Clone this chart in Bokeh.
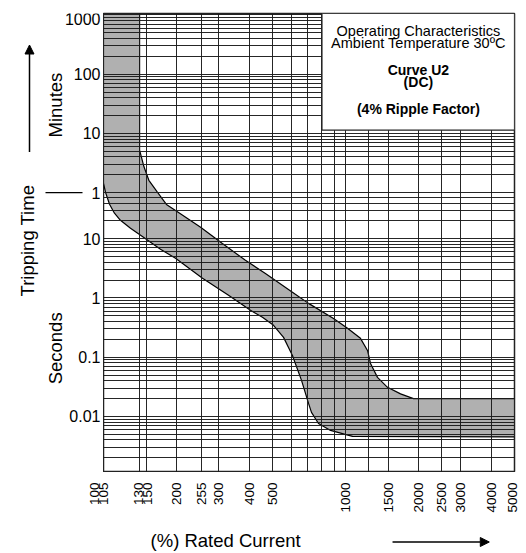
import math
from bokeh.plotting import figure
from bokeh.layouts import column, row
from bokeh.models import Range1d, FixedTicker, Label, Arrow, NormalHead
from bokeh.core.properties import value
from bokeh.embed import file_html
from bokeh.resources import INLINE

FONT = "Liberation Sans"

# ---------------- data ----------------
# x: (%) rated current, printed log scale (the "130" line sits at ~141 on the log grid)
x_tick_vals = [100, 105, 141, 150, 200, 255, 300, 400, 500, 1000, 1500, 2000, 2500, 3000, 4000, 5000]
x_tick_text = ["100", "105", "130", "150", "200", "255", "300", "400", "500",
               "1000", "1500", "2000", "2500", "3000", "4000", "5000"]
x_grid_vals = [100, 141, 150, 200, 255, 300, 400, 500, 600, 700, 800, 900, 1000,
               1250, 1500, 2000, 2500, 3000, 4000, 5000]

# y: tripping time in seconds (upper part labelled in minutes)
y_tick_vals = [60000, 6000, 600, 60, 10, 1, 0.1, 0.01]
y_tick_text = ["1000", "100", "10", "1", "10", "1", "0.1", "0.01"]
minute_grid = [k * 10 ** n * 60 for n in range(0, 3) for k in range(1, 10)] + [60000]
second_grid = [k * 10.0 ** n for n in range(-3, 2) for k in range(1, 10) if k * 10.0 ** n < 60]

X_START, X_END = 100, 5000
Y_START, Y_END = 0.00113, 63500

# band: maximum tripping time (upper) and minimum tripping time (lower)
upper_pct = [141, 141, 147, 154, 167, 182, 205, 252, 310, 386, 467, 604, 704, 893,
             1020, 1154, 1234, 1270, 1357, 1493, 1690, 1912, 5000]
upper_sec = [Y_END, 313, 164, 97, 61, 38, 27.5, 15.6, 8.3, 4.33, 2.58, 1.25, 0.81, 0.45,
             0.307, 0.208, 0.13, 0.0785, 0.0456, 0.031, 0.024, 0.02, 0.02]
lower_pct = [100, 100, 101.9, 105.9, 111, 117.5, 129.3, 146.3, 172, 198.5, 256.6, 328.7,
             405, 454, 504.5, 555, 604, 658.5, 704, 724, 774, 868, 1070, 5000]
lower_sec = [Y_END, 86.7, 61, 38.3, 27, 20.5, 15, 10.6, 6.64, 4.68, 2.15, 1.11,
             0.618, 0.471, 0.345, 0.216, 0.107, 0.0406, 0.0166, 0.0117, 0.0076, 0.0058, 0.0046, 0.0045]

# ---------------- layout sizes ----------------
LEFT_W, TOP_B, RIGHT_B = 103, 13, 11
FRAME_W, FRAME_H = 411, 459
BOTTOM_H = 80
MAIN_H = TOP_B + FRAME_H
dpx = math.log10(X_END / X_START) / FRAME_W   # decades per pixel, x
dpy = math.log10(Y_END / Y_START) / FRAME_H   # decades per pixel, y


def blank(fig):
    fig.axis.visible = False
    fig.grid.visible = False
    fig.outline_line_color = None
    fig.background_fill_color = "white"
    fig.border_fill_color = "white"
    return fig


# ---------------- main plot ----------------
p = figure(width=FRAME_W + RIGHT_B, height=MAIN_H, x_axis_type="log", y_axis_type="log",
           x_range=Range1d(X_START, X_END), y_range=Range1d(Y_START, Y_END),
           output_backend="svg", toolbar_location=None, title=None,
           min_border_left=0, min_border_right=RIGHT_B, min_border_top=TOP_B, min_border_bottom=0)
p.background_fill_color = "white"
p.border_fill_color = "white"
p.outline_line_color = "#222222"
p.outline_line_width = 1.5
p.xaxis.visible = False
p.yaxis.visible = False

band_x = upper_pct + lower_pct[::-1]
band_y = upper_sec + lower_sec[::-1]
p.patch(band_x, band_y, fill_color="#b0b0b0", line_color="black", line_width=1.2, level="image")

p.xgrid.ticker = FixedTicker(ticks=x_grid_vals, minor_ticks=[])
p.ygrid.ticker = FixedTicker(ticks=minute_grid + second_grid, minor_ticks=[])
for g in (p.xgrid, p.ygrid):
    g.grid_line_color = "#1a1a1a"
    g.grid_line_width = 1
    g.grid_line_alpha = 0.95

# legend box
p.quad(left=800, right=X_END, bottom=680, top=Y_END, fill_color="white",
       line_color="#222222", line_width=1.2)
legend_lines = [("Operating Characteristics", 32150, "normal", "14.5px"),
                ("Ambient Temperature 30ºC", 20180, "normal", "14.5px"),
                ("Curve U2", 7050, "bold", "14px"),
                ("(DC)", 4420, "bold", "14px"),
                ("(4% Ripple Factor)", 1545, "bold", "14px")]
for txt, yy, fs, sz in legend_lines:
    p.add_layout(Label(x=2003, y=yy, text=txt, text_align="center", text_baseline="middle",
                       text_font=FONT, text_font_size=sz, text_font_style=fs,
                       text_color="black"))

# ---------------- left panel (y labels) ----------------
L = figure(width=LEFT_W, height=MAIN_H, y_axis_type="log",
           x_range=Range1d(0, LEFT_W), y_range=p.y_range,
           output_backend="svg", toolbar_location=None, title=None,
           min_border_left=0, min_border_right=0, min_border_top=TOP_B, min_border_bottom=0)
blank(L)
# the top label is nudged 4 px down so it stays inside the panel
y_label_pos = [y_tick_vals[0] * 10 ** (-4 * dpy)] + y_tick_vals[1:]
L.text(x=[100] * len(y_tick_vals), y=y_label_pos, text=y_tick_text,
       text_align="right", text_baseline="middle", text_font=value(FONT),
       text_font_size="16px", text_color="black")
L.add_layout(Label(x=27, y=9.3, text="Tripping Time", angle=math.pi / 2,
                   text_align="center", text_baseline="middle", text_font=FONT,
                   text_font_size="18.5px", text_color="black"))
L.add_layout(Label(x=54.5, y=1806, text="Minutes", angle=math.pi / 2,
                   text_align="center", text_baseline="middle", text_font=FONT,
                   text_font_size="18.5px", text_color="black"))
L.add_layout(Label(x=54.5, y=0.141, text="Seconds", angle=math.pi / 2,
                   text_align="center", text_baseline="middle", text_font=FONT,
                   text_font_size="18.5px", text_color="black"))
L.add_layout(Arrow(end=NormalHead(size=9, fill_color="black", line_color="black"),
                   x_start=29, y_start=290, x_end=29, y_end=18660,
                   line_width=1.5, line_color="black"))
L.add_layout(Arrow(end=None, x_start=45, y_start=60, x_end=82, y_end=60,
                   line_width=1.2, line_color="black"))

# ---------------- bottom panel (x labels) ----------------
TOTAL_W = LEFT_W + FRAME_W + RIGHT_B
B = figure(width=TOTAL_W, height=BOTTOM_H, x_axis_type="log",
           x_range=Range1d(X_START * 10 ** (-LEFT_W * dpx), X_END * 10 ** (RIGHT_B * dpx)),
           y_range=Range1d(0, BOTTOM_H),
           output_backend="svg", toolbar_location=None, title=None, min_border=0)
blank(B)
x_label_nudge = [-9, -5, -1, 1, 0, 0, 0, 0, 0, 0, 0, 0, 0, 0, 0, -2]
B.text(x=x_tick_vals, y=[BOTTOM_H - 10] * len(x_tick_vals), text=x_tick_text,
       x_offset=x_label_nudge, angle=math.pi / 2, text_align="right", text_baseline="middle",
       text_font=value(FONT), text_font_size="13.5px", text_color="black")
B.add_layout(Label(x=319.7, y=BOTTOM_H - 68, text="(%) Rated Current",
                   text_align="center", text_baseline="middle", text_font=FONT,
                   text_font_size="18.5px", text_color="black"))
B.add_layout(Arrow(end=NormalHead(size=9, fill_color="black", line_color="black"),
                   x_start=1566, y_start=BOTTOM_H - 69.5, x_end=3933, y_end=BOTTOM_H - 69.5,
                   line_width=1.5, line_color="black"))

layout = column(row(L, p, spacing=0), B, spacing=0)
open("out.html", "w").write(file_html(layout, INLINE))
